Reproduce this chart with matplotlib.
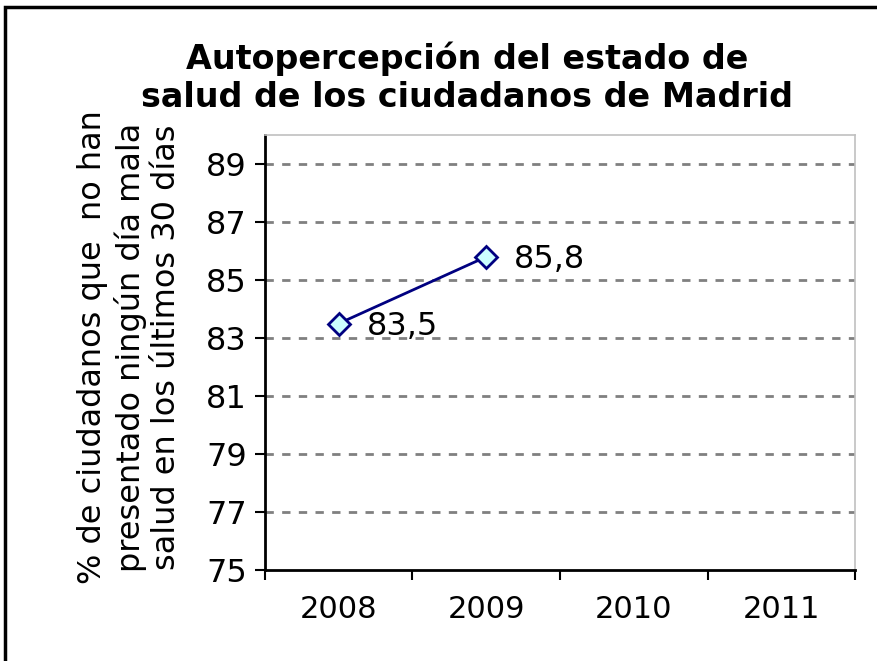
import matplotlib.pyplot as plt
from matplotlib.patches import Rectangle

years = ["2008", "2009", "2010", "2011"]
values = [83.5, 85.8]
value_labels = ["83,5", "85,8"]
y_ticks = [75, 77, 79, 81, 83, 85, 87, 89]

fig = plt.figure(figsize=(8.78, 6.61), dpi=100)
ax = fig.add_axes([265 / 878, 1 - 570 / 661, 590 / 878, 435 / 661])

# outer chart border (runs off the right and bottom edge in the reference)
fig.patches.append(Rectangle((5 / 878, -0.05), 1.0, 1 - 7 / 661 + 0.05,
                             transform=fig.transFigure, fill=False,
                             edgecolor="black", linewidth=2.5))

x = list(range(len(values)))
ax.plot(x, values, color="#000080", linewidth=2, marker="D", markersize=11,
        markerfacecolor="#CCFFFF", markeredgecolor="#000080", markeredgewidth=2,
        zorder=3)
for xi, v, lab in zip(x, values, value_labels):
    ax.annotate(lab, (xi, v), xytext=(20, -2), textcoords="offset points",
                ha="left", va="center", fontsize=23)

ax.set_xlim(-0.5, 3.5)
ax.set_ylim(75, 90)
ax.set_yticks(y_ticks)
ax.set_yticklabels([str(t) for t in y_ticks], fontsize=23)
ax.set_xticks([i + 0.5 for i in range(-1, 4)], minor=False)
ax.set_xticklabels([])
ax.set_xticks(range(len(years)), minor=True)
ax.set_xticklabels(years, minor=True, fontsize=22)
ax.tick_params(axis="x", which="minor", length=0, pad=18)
ax.tick_params(axis="x", which="major", direction="out", length=7, width=1.5)
ax.tick_params(axis="y", direction="out", length=7, width=1.5, pad=6)

for t in y_ticks[1:]:
    ax.axhline(t, color="#808080", linestyle=(0, (3, 3)), linewidth=2, zorder=1)

for s in ["top", "right"]:
    ax.spines[s].set_color("#c0c0c0")
    ax.spines[s].set_linewidth(1.2)
for s in ["left", "bottom"]:
    ax.spines[s].set_linewidth(2)

fig.text(130 / 878, 1 - 347 / 661,
         "% de ciudadanos que  no han\npresentado ningún día mala\nsalud en los últimos 30 días",
         rotation=90, ha="center", va="center", fontsize=23, linespacing=1.2)

fig.text(467 / 878, 1 - 78 / 661, "Autopercepción del estado de\nsalud de los ciudadanos de Madrid",
         ha="center", va="center", fontsize=24, fontweight="bold", linespacing=1.2)

fig.savefig("out.png", dpi=100)
